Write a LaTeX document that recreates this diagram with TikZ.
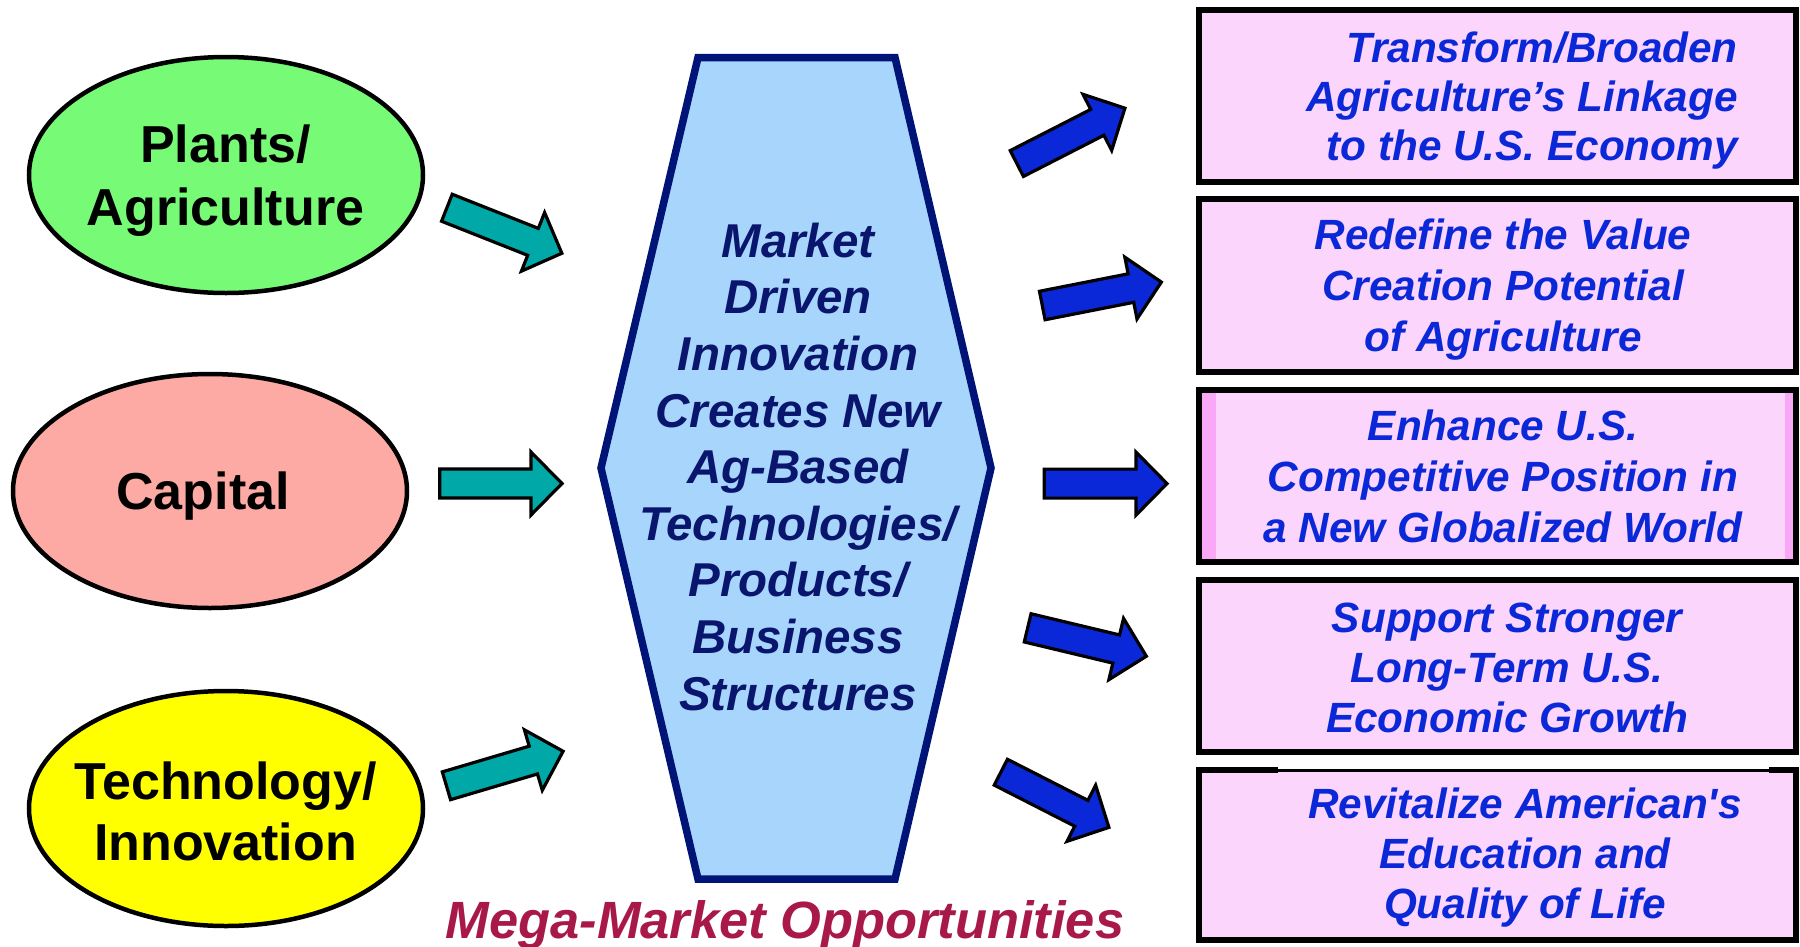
\documentclass[tikz,border=0pt]{standalone}
\usepackage{fontspec}
\setmainfont{Liberation Sans}
\newfontfamily\lsans{Liberation Sans}
\usetikzlibrary{shapes.geometric,calc}
\definecolor{ellgreen}{RGB}{119,251,119}
\definecolor{ellpink}{RGB}{253,170,165}
\definecolor{ellyellow}{RGB}{255,255,0}
\definecolor{hexfill}{RGB}{168,213,252}
\definecolor{hexline}{RGB}{0,20,120}
\definecolor{hextext}{RGB}{10,22,110}
\definecolor{boxfill}{RGB}{252,213,252}
\definecolor{boxside}{RGB}{249,168,248}
\definecolor{boxtext}{RGB}{10,40,215}
\definecolor{arrblue}{RGB}{10,40,215}
\definecolor{arrteal}{RGB}{0,168,168}
\definecolor{megared}{RGB}{168,24,72}
\tikzset{
  arrowline/.style={draw=black, line width=3.2pt, line join=miter},
  ellnode/.style={ellipse, draw=black, line width=4.5pt, minimum width=394pt, minimum height=236pt, inner sep=0pt, outer sep=0pt},
  elltext/.style={font=\lsans\fontsize{52}{63}\selectfont\bfseries, align=center, anchor=base, inner sep=0pt, text=black},
  hexshape/.style={draw=hexline, fill=hexfill, line width=7.5pt, line join=miter},
  hextextstyle/.style={font=\lsans\fontsize{47.5}{56.6}\selectfont\bfseries\itshape, align=center, anchor=base, inner sep=0pt, text=hextext},
  oppbox/.style={rectangle, draw=black, fill=boxfill, line width=6pt, minimum width=597pt, inner sep=0pt, outer sep=0pt},
  boxtextstyle/.style={font=\lsans\fontsize{42.3}{50}\selectfont\bfseries\itshape, align=center, anchor=base, inner sep=0pt, text=boxtext},
  megastyle/.style={font=\lsans\fontsize{52.4}{60}\selectfont\bfseries\itshape, anchor=base, inner sep=0pt, text=megared}
}
\newcommand\blockarrow[3]{%
  \coordinate (#1s) at ($(#1)!1.5pt!(#2)$);
  \coordinate (#2s) at ($(#2)!2pt!(#1)$);
  \coordinate (#1h) at ($(#2s)!31pt!(#1s)$);
  \filldraw[arrowline, fill=#3] ($(#1s)!14.5pt!90:(#2s)$) -- ($(#1h)!14.5pt!90:(#2s)$) -- ($(#1h)!31.5pt!90:(#2s)$) -- (#2s) -- ($(#1h)!31.5pt!-90:(#2s)$) -- ($(#1h)!14.5pt!-90:(#2s)$) -- ($(#1s)!14.5pt!-90:(#2s)$) -- cycle;
}
\begin{document}
\begin{tikzpicture}[x=1pt,y=-1pt]
\frenchspacing
\useasboundingbox (0,0) rectangle (1800,946);
\fill[white] (0,0) rectangle (1800,946);

% ellipses
\node[ellnode, fill=ellgreen] (plants) at (226,175) {};
\node[ellnode, fill=ellpink, minimum height=234pt] (capital) at (210,491) {};
\node[ellnode, fill=ellyellow, minimum height=235pt] (tech) at (226,808.5) {};
\node[elltext] (plantstext) at (225.5,225) {Plants/\\Agriculture};
\node[elltext] (capitaltext) at (203,509) {Capital};
\node[elltext, font=\lsans\fontsize{52}{61}\selectfont\bfseries] (techtext) at (225.5,860) {Technology/\\Innovation};

% hexagon
\coordinate (hx1) at (698,57.5);
\coordinate (hx2) at (895,57.5);
\coordinate (hx3) at (991,468);
\coordinate (hx4) at (895,879);
\coordinate (hx5) at (698,879);
\coordinate (hx6) at (601,468);
\filldraw[hexshape] (hx1) -- (hx2) -- (hx3) -- (hx4) -- (hx5) -- (hx6) -- cycle;
\node[hextextstyle] (hextext) at (798,710) {Market\\Driven\\Innovation\\Creates New\\Ag-Based\\Technologies/\\Products/\\Business\\Structures};

% opportunity boxes
\node[oppbox, minimum height=172pt] (box1) at (1497.5,96) {};
\node[oppbox, minimum height=172.5pt] (box2) at (1497.5,285.25) {};
\node[oppbox, minimum height=172pt, fill=boxside] (box3) at (1497.5,476) {};
\fill[boxfill] (1215.5,393) rectangle (1785,559);
\draw[line width=6pt] (box3.north west) rectangle (box3.south east);
\node[oppbox, minimum height=172pt] (box4) at (1497.5,666) {};
\node[oppbox, minimum height=170pt] (box5) at (1497.5,855) {};
\fill[white] (1278,766.5) rectangle (1769,768.5);
\fill[boxfill] (1278,771.5) rectangle (1769,773.2);

\node[boxtextstyle, align=right, anchor=base east, font=\lsans\fontsize{42.3}{49}\selectfont\bfseries\itshape] (b1text) at (1738,160) {Transform/Broaden\\Agriculture’s Linkage\\to the U.S. Economy};
\node[boxtextstyle, font=\lsans\fontsize{42.3}{51}\selectfont\bfseries\itshape] (b2text) at (1503,351) {Redefine the Value\\Creation Potential\\of Agriculture};
\node[boxtextstyle, font=\lsans\fontsize{42.3}{51}\selectfont\bfseries\itshape] (b3text) at (1503,542) {Enhance U.S.\\Competitive Position in\\a New Globalized World};
\node[boxtextstyle] (b4text) at (1507,732) {Support Stronger\\Long-Term U.S.\\Economic Growth};
\node[boxtextstyle] (b5text) at (1525,918) {Revitalize American's\\Education and\\Quality of Life};

% arrows
\coordinate (l1t) at (445.5,207.2); \coordinate (l1p) at (563.7,254);
\coordinate (l2t) at (438.3,483.5); \coordinate (l2p) at (564,483.5);
\coordinate (l3t) at (445,786.2);   \coordinate (l3p) at (565,750.7);
\coordinate (r1t) at (1015.5,164.2); \coordinate (r1p) at (1126.7,107.3);
\coordinate (r2t) at (1040.8,305.8); \coordinate (r2p) at (1163.3,281.7);
\coordinate (r3t) at (1042.7,483.6); \coordinate (r3p) at (1169,483.6);
\coordinate (r4t) at (1026.2,627.5); \coordinate (r4p) at (1148.3,656.7);
\coordinate (r5t) at (999.5,771.5);  \coordinate (r5p) at (1110.7,828.3);
\blockarrow{l1t}{l1p}{arrteal}
\blockarrow{l2t}{l2p}{arrteal}
\blockarrow{l3t}{l3p}{arrteal}
\blockarrow{r1t}{r1p}{arrblue}
\blockarrow{r2t}{r2p}{arrblue}
\blockarrow{r3t}{r3p}{arrblue}
\blockarrow{r4t}{r4p}{arrblue}
\blockarrow{r5t}{r5p}{arrblue}

% caption
\node[megastyle] (mega) at (785,938) {Mega-Market Opportunities};
\end{tikzpicture}
\end{document}
